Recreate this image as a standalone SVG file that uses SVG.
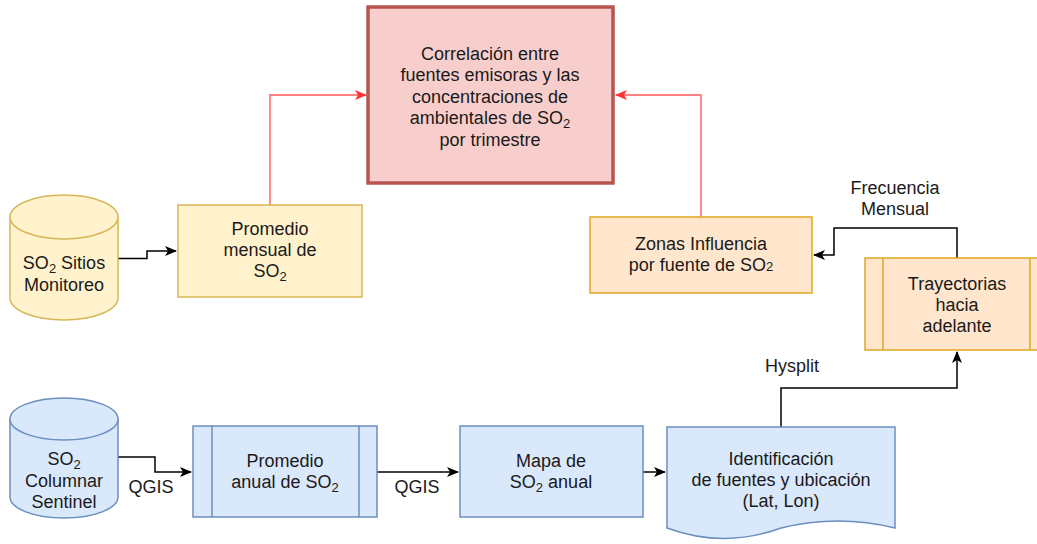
<svg xmlns="http://www.w3.org/2000/svg" width="1037" height="544" viewBox="0 0 1037 544">
<style>
text{font-family:"Liberation Sans",Arial,Helvetica,sans-serif;font-size:18px;fill:#1a1a1a;text-anchor:middle}
.sub{font-size:13px}
.yel{fill:#fff2cc;stroke:#d6b656;stroke-width:1.5}
.org{fill:#ffe6cc;stroke:#e0a81f;stroke-width:1.5}
.blu{fill:#dae8fc;stroke:#6c8ebf;stroke-width:1.5}
.red{fill:#f8cecc;stroke:#b85450;stroke-width:3.5}
.ln{fill:none;stroke:#000;stroke-width:1.5}
.rl{fill:none;stroke:#ff8080;stroke-width:1.8}
</style>
<defs>
<marker id="ab" viewBox="0 0 12 10" refX="11" refY="5" markerWidth="12" markerHeight="10" markerUnits="userSpaceOnUse" orient="auto">
<path d="M0,0 L12,5 L0,10 L3,5 z" fill="#000"/>
</marker>
<marker id="ar" viewBox="0 0 12 10" refX="11" refY="5" markerWidth="12" markerHeight="10" markerUnits="userSpaceOnUse" orient="auto">
<path d="M0,0 L12,5 L0,10 L3,5 z" fill="#ff3333"/>
</marker>
</defs>

<g id="connectors">
<path class="rl" d="M270,205 V95 H366" marker-end="url(#ar)"/>
<path class="rl" d="M701,217 V95 H616" marker-end="url(#ar)"/>
<path class="ln" d="M118,258.5 H147 V251 H176" marker-end="url(#ab)"/>
<path class="ln" d="M957,258 V228 H834 V255 H814" marker-end="url(#ab)"/>
<path class="ln" d="M118,457 H155 V472 H191" marker-end="url(#ab)"/>
<path class="ln" d="M377,472 H458" marker-end="url(#ab)"/>
<path class="ln" d="M643,472 H665" marker-end="url(#ab)"/>
<path class="ln" d="M781,427 V388 H957 V352" marker-end="url(#ab)"/>
<text x="895" y="194">Frecuencia</text>
<text x="895" y="215">Mensual</text>
<text x="792" y="372">Hysplit</text>
<text x="151" y="493">QGIS</text>
<text x="417" y="493">QGIS</text>
</g>

<g id="correlacion">
<rect class="red" x="368" y="7" width="245" height="176"/>
<text x="490" y="59.5">Correlación entre</text>
<text x="490" y="81">fuentes emisoras y las</text>
<text x="490" y="102.5">concentraciones de</text>
<text x="490" y="124">ambientales de SO<tspan class="sub" dy="4">2</tspan></text>
<text x="490" y="145.5">por trimestre</text>
</g>

<g id="sitios">
<path class="yel" d="M10,217 A54,22 0 0 1 118,217 V298 A54,22 0 0 1 10,298 Z"/>
<path class="yel" fill="none" d="M10,217 A54,22 0 0 0 118,217"/>
<text x="64" y="268.5">SO<tspan class="sub" dy="4">2</tspan><tspan dy="-4"> Sitios</tspan></text>
<text x="64" y="291">Monitoreo</text>
</g>

<g id="promedio-mensual">
<rect class="yel" x="178" y="205" width="184" height="92"/>
<text x="270" y="235">Promedio</text>
<text x="270" y="256">mensual de</text>
<text x="270" y="277">SO<tspan class="sub" dy="4">2</tspan></text>
</g>

<g id="zonas">
<rect class="org" x="590" y="217" width="222" height="76"/>
<text x="701" y="250">Zonas Influencia</text>
<text x="701" y="271">por fuente de SO<tspan class="sub">2</tspan></text>
</g>

<g id="trayectorias">
<rect class="org" x="865" y="258" width="183" height="92"/>
<path class="org" d="M883,258 V350 M1030,258 V350"/>
<text x="957" y="290">Trayectorias</text>
<text x="957" y="311">hacia</text>
<text x="957" y="332">adelante</text>
</g>

<g id="columnar">
<path class="blu" d="M10,419 A54,21 0 0 1 118,419 V497 A54,21 0 0 1 10,497 Z"/>
<path class="blu" d="M10,419 A54,21 0 0 0 118,419"/>
<text x="64" y="465">SO<tspan class="sub" dy="4">2</tspan></text>
<text x="64" y="487">Columnar</text>
<text x="64" y="508">Sentinel</text>
</g>

<g id="promedio-anual">
<rect class="blu" x="193" y="426" width="184" height="91"/>
<path class="blu" d="M212,426 V517 M359,426 V517"/>
<text x="285" y="467">Promedio</text>
<text x="285" y="488">anual de SO<tspan class="sub" dy="4">2</tspan></text>
</g>

<g id="mapa">
<rect class="blu" x="460" y="426" width="183" height="91"/>
<text x="551" y="467">Mapa de</text>
<text x="551" y="488">SO<tspan class="sub" dy="4">2</tspan><tspan dy="-4"> anual</tspan></text>
</g>

<g id="identificacion">
<path class="blu" d="M667,427 H895 V528 Q838,514 781,528 Q724,549 667,528 Z"/>
<text x="781" y="465">Identificación</text>
<text x="781" y="486">de fuentes y ubicación</text>
<text x="781" y="507">(Lat, Lon)</text>
</g>
</svg>
